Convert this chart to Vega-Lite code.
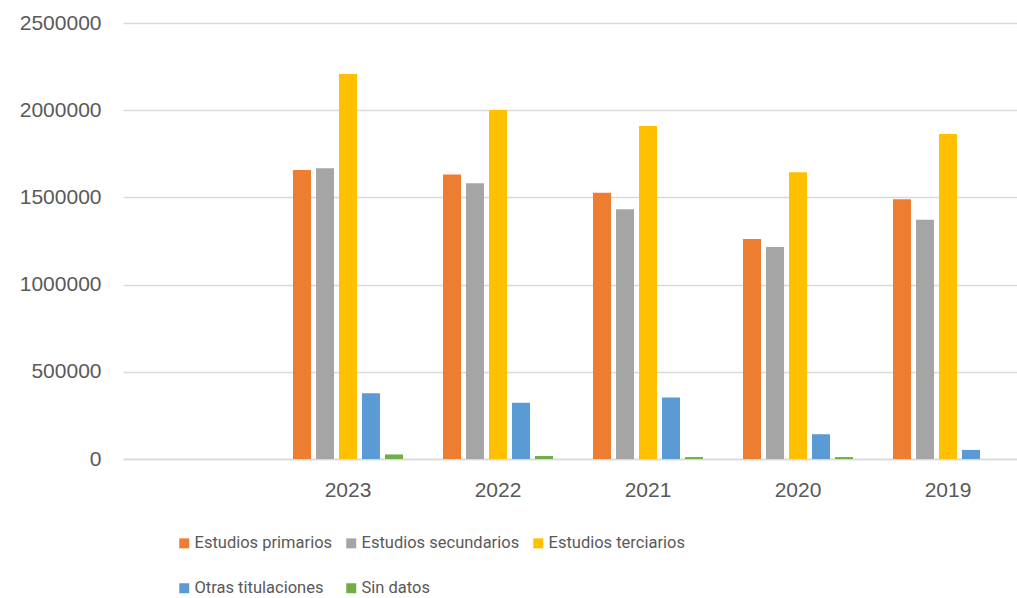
{
  "$schema": "https://vega.github.io/schema/vega-lite/v6.json",
  "width": 894,
  "height": 436,
  "autosize": {"type": "none"},
  "padding": {"left": 123, "top": 23, "right": 0, "bottom": 139},
  "background": "white",
  "config": {
    "view": {"stroke": null},
    "font": "Liberation Sans",
    "axis": {"labelColor": "#595959", "labelFont": "Liberation Sans", "labelFontSize": 21, "gridColor": "#D9D9D9", "gridWidth": 1.3, "domainColor": "#D9D9D9", "ticks": false}
  },
  "data": {
    "values": [
      {"year": "2023", "nivel": "Estudios primarios", "valor": 1657000},
      {"year": "2023", "nivel": "Estudios secundarios", "valor": 1667000},
      {"year": "2023", "nivel": "Estudios terciarios", "valor": 2208000},
      {"year": "2023", "nivel": "Otras titulaciones", "valor": 377000},
      {"year": "2023", "nivel": "Sin datos", "valor": 26000},
      {"year": "2022", "nivel": "Estudios primarios", "valor": 1632000},
      {"year": "2022", "nivel": "Estudios secundarios", "valor": 1581000},
      {"year": "2022", "nivel": "Estudios terciarios", "valor": 2001000},
      {"year": "2022", "nivel": "Otras titulaciones", "valor": 323000},
      {"year": "2022", "nivel": "Sin datos", "valor": 17000},
      {"year": "2021", "nivel": "Estudios primarios", "valor": 1527000},
      {"year": "2021", "nivel": "Estudios secundarios", "valor": 1432000},
      {"year": "2021", "nivel": "Estudios terciarios", "valor": 1909000},
      {"year": "2021", "nivel": "Otras titulaciones", "valor": 352000},
      {"year": "2021", "nivel": "Sin datos", "valor": 11000},
      {"year": "2020", "nivel": "Estudios primarios", "valor": 1261000},
      {"year": "2020", "nivel": "Estudios secundarios", "valor": 1216000},
      {"year": "2020", "nivel": "Estudios terciarios", "valor": 1644000},
      {"year": "2020", "nivel": "Otras titulaciones", "valor": 142000},
      {"year": "2020", "nivel": "Sin datos", "valor": 11000},
      {"year": "2019", "nivel": "Estudios primarios", "valor": 1490000},
      {"year": "2019", "nivel": "Estudios secundarios", "valor": 1372000},
      {"year": "2019", "nivel": "Estudios terciarios", "valor": 1863000},
      {"year": "2019", "nivel": "Otras titulaciones", "valor": 52000},
      {"year": "2019", "nivel": "Sin datos", "valor": 0}
    ]
  },
  "mark": {"type": "bar"},
  "encoding": {
    "x": {
      "field": "year", "type": "nominal", "sort": null, "title": null,
      "scale": {"domain": [" ", "2023", "2022", "2021", "2020", "2019"], "paddingInner": 0.2667, "paddingOuter": 0.1133, "align": 0.588},
      "axis": {"labelAngle": 0, "labelPadding": 20, "grid": false, "domain": true, "domainWidth": 1.3}
    },
    "xOffset": {
      "field": "nivel", "type": "nominal",
      "scale": {"domain": ["Estudios primarios", "Estudios secundarios", "Estudios terciarios", "Otras titulaciones", "Sin datos"], "paddingInner": 0.217, "paddingOuter": 0}
    },
    "y": {
      "field": "valor", "type": "quantitative", "title": null,
      "scale": {"domain": [0, 2500000], "nice": false},
      "axis": {"values": [0, 500000, 1000000, 1500000, 2000000, 2500000], "format": "d", "domain": false, "labelPadding": 22}
    },
    "color": {
      "field": "nivel", "type": "nominal", "title": null,
      "scale": {"domain": ["Estudios primarios", "Estudios secundarios", "Estudios terciarios", "Otras titulaciones", "Sin datos"], "range": ["#ED7D31", "#A5A5A5", "#FFC000", "#5B9BD5", "#70AD47"]},
      "legend": {
        "orient": "none", "legendX": 53, "legendY": 512, "direction": "horizontal", "columns": 3,
        "symbolType": "square", "symbolSize": 100, "symbolStrokeWidth": 0, "symbolOffset": 0,
        "labelFont": "Roboto", "labelFontSize": 16.5, "labelColor": "#595959", "labelOffset": 2, "labelLimit": 300,
        "columnPadding": 10, "rowPadding": 28, "padding": 0
      }
    }
  }
}
